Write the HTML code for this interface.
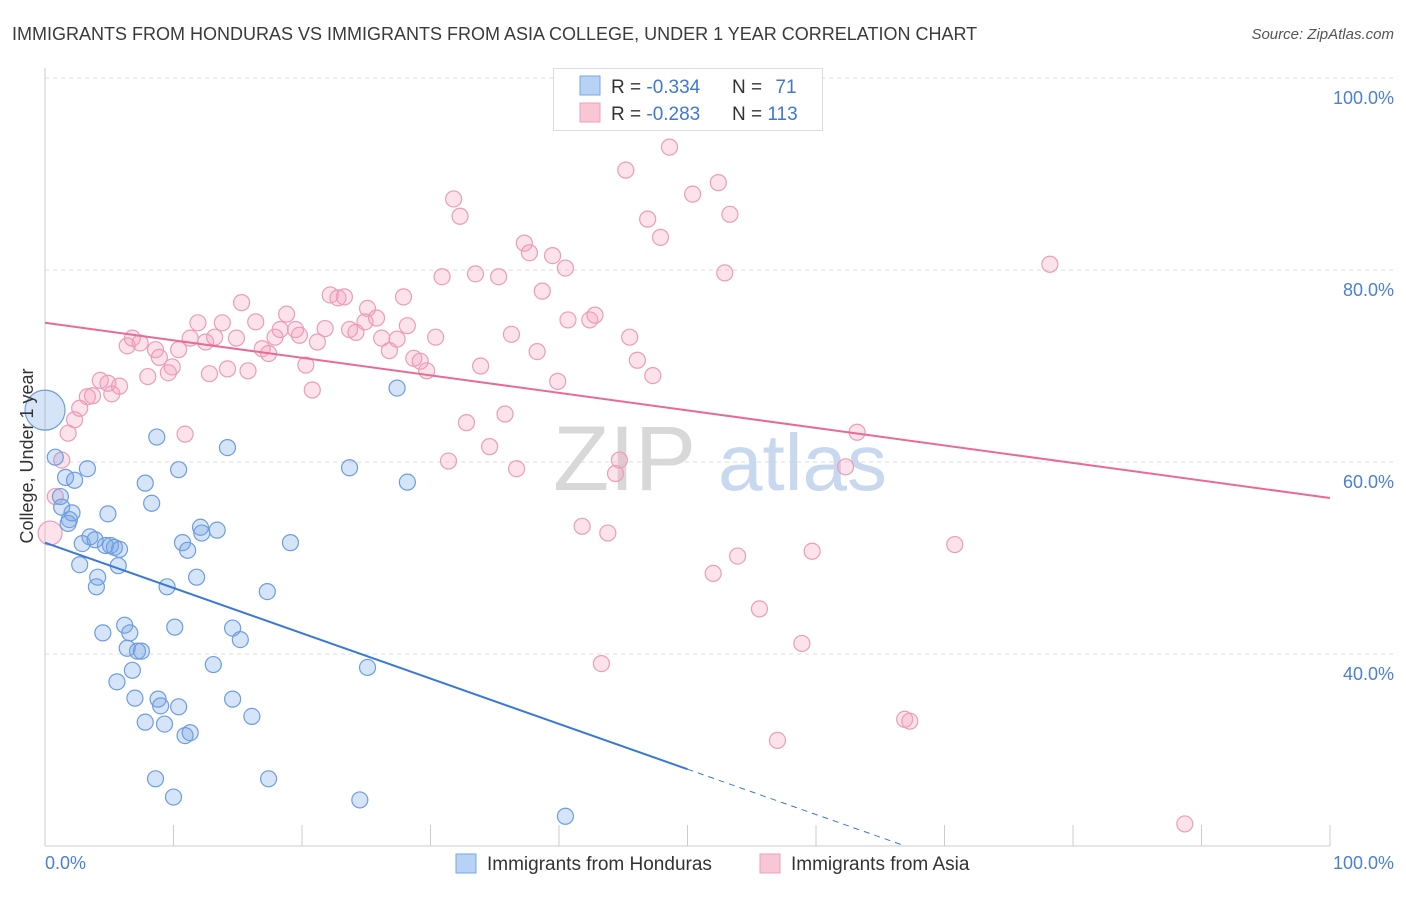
<!DOCTYPE html>
<html><head><meta charset="utf-8"><style>
body{margin:0;background:#fff;font-family:"Liberation Sans",sans-serif;}
svg text{font-family:"Liberation Sans",sans-serif;}
</style></head><body>
<svg id="chart" width="1406" height="892" viewBox="0 0 1406 892" xmlns="http://www.w3.org/2000/svg">
<text x="12" y="40" font-size="18" fill="#3a3a3a">IMMIGRANTS FROM HONDURAS VS IMMIGRANTS FROM ASIA COLLEGE, UNDER 1 YEAR CORRELATION CHART</text>
<text x="1394" y="39" font-size="15" fill="#555" font-style="italic" text-anchor="end">Source: ZipAtlas.com</text>
<g id="grid"></g>
<g><text x="553" y="490" font-size="92" fill="#d8d8d8" font-family="Liberation Serif">ZIP</text><text x="718" y="490" font-size="80" fill="#c8d8ef">atlas</text></g>
<line x1="45" y1="68" x2="45" y2="846" stroke="#ccc"/>
<line x1="45" y1="846" x2="1330" y2="846" stroke="#ccc"/>
<g id="ticks"></g>
<g id="pts"></g>
<g id="trend"></g>
<text x="45" y="869" font-size="18" fill="#4a7fd6">0.0%</text>
<text x="1394" y="869" font-size="18" fill="#4a7fd6" text-anchor="end">100.0%</text>
<text transform="translate(33,456) rotate(-90)" font-size="18" fill="#333" text-anchor="middle">College, Under 1 year</text>
<g>
<rect x="553.5" y="68.5" width="269" height="62" fill="#fff" stroke="#ddd"/>
<rect x="580" y="76" width="20" height="19" fill="#b8d2f5" stroke="#7aa6e6"/>
<rect x="580" y="103" width="20" height="19" fill="#f9c6d6" stroke="#eda2bb"/>
<text x="611" y="93" font-size="19" fill="#333">R = <tspan fill="#3f78d4">-0.334</tspan></text>
<text x="732" y="93" font-size="19" fill="#333">N = <tspan fill="#3f78d4" dx="8">71</tspan></text>
<text x="611" y="120" font-size="19" fill="#333">R = <tspan fill="#3f78d4">-0.283</tspan></text>
<text x="732" y="120" font-size="19" fill="#333">N = <tspan fill="#3f78d4">113</tspan></text>
</g>
<g>
<rect x="456" y="854" width="20" height="19" fill="#b8d2f5" stroke="#7aa6e6"/>
<text x="487" y="870" font-size="19" fill="#333">Immigrants from Honduras</text>
<rect x="760" y="854" width="20" height="19" fill="#f9c6d6" stroke="#eda2bb"/>
<text x="791" y="870" font-size="19" fill="#333">Immigrants from Asia</text>
</g>
</svg>
<script>
const yTicks=[100,80,60,40];
const yTickLabels=["100.0%","80.0%","60.0%","40.0%"];
const xTicks=[10,20,30,40,50,60,70,80,90,100];
const hondurasX=[0,0.8,1.2,1.6,2.3,3.3,1.9,1.8,1.3,2.1,2.7,2.9,3.5,3.9,4.1,4.9,4.7,5.1,5.4,5.8,5.7,4.0,4.5,6.2,6.6,6.4,7.2,7.5,5.6,6.8,7.0,7.8,8.8,9.0,9.3,8.6,10.0,10.9,11.3,10.1,9.5,8.3,7.8,8.7,10.4,10.7,11.1,11.8,12.1,12.2,13.4,13.1,14.6,15.2,14.6,16.1,17.4,17.3,19.1,14.2,23.7,25.1,24.5,27.4,28.2,40.5,10.4];
const hondurasY=[65.4,60.5,56.4,58.4,58.1,59.3,54.0,53.6,55.3,54.7,49.3,51.5,52.2,51.9,48.0,54.6,51.3,51.3,51.1,50.9,49.2,47.0,42.2,43.0,42.2,40.6,40.3,40.3,37.1,38.3,35.4,32.9,35.3,34.6,32.7,27.0,25.1,31.5,31.8,42.8,47.0,55.7,57.8,62.6,59.2,51.6,50.8,48.0,53.2,52.6,52.9,38.9,42.7,41.5,35.3,33.5,27.0,46.5,51.6,61.5,59.4,38.6,24.8,67.7,57.9,23.1,34.5];
const asiaX=[0.4,0.8,1.3,1.8,2.3,2.7,3.3,3.7,4.3,4.9,5.2,5.8,6.4,6.8,7.4,8.0,8.6,8.9,9.6,9.9,10.4,10.9,11.3,11.9,12.5,12.8,13.2,13.8,14.2,14.9,15.3,15.8,16.4,16.9,17.4,17.9,18.3,18.8,19.5,19.8,20.3,20.8,21.2,21.8,22.2,22.8,23.3,23.7,24.2,24.9,25.1,25.8,26.2,26.8,27.4,27.9,28.2,28.7,29.2,29.7,30.4,30.9,31.4,31.8,32.3,32.8,33.5,33.9,34.6,35.3,35.8,36.3,36.7,37.3,37.7,38.3,38.7,39.5,39.9,40.5,40.7,41.8,42.4,42.8,43.3,43.8,44.4,44.7,45.2,45.5,46.1,46.9,47.3,47.9,48.6,50.4,52.0,52.4,52.9,53.3,53.9,55.6,57.0,58.9,59.7,62.3,63.2,66.9,67.3,70.8,78.2,88.7];
const asiaY=[52.6,56.4,60.2,63.0,64.4,65.6,66.8,66.9,68.5,68.2,67.1,67.9,72.1,72.9,72.4,68.9,71.7,70.9,69.3,69.9,71.7,62.9,72.9,74.5,72.5,69.2,73.0,74.5,69.7,72.9,76.6,69.5,74.6,71.8,71.3,73.0,73.8,75.4,73.8,73.2,70.1,67.5,72.5,73.9,77.4,77.1,77.2,73.8,73.5,74.6,76.0,75.0,72.9,71.6,72.8,77.2,74.2,70.8,70.5,69.5,73.0,79.3,60.1,87.4,85.6,64.1,79.6,70.0,61.6,79.3,65.0,73.3,59.3,82.8,81.8,71.5,77.8,81.5,68.4,80.2,74.8,53.3,74.8,75.3,39.0,52.6,58.8,60.2,90.4,73.0,70.6,85.3,69.0,83.4,92.8,87.9,48.4,89.1,79.7,85.8,50.2,44.7,31.0,41.1,50.7,59.5,63.1,33.2,33.0,51.4,80.6,22.3];
const hondurasTrend=[51.6,28.0];
const asiaTrend=[74.5,56.25];
const NS="http://www.w3.org/2000/svg";
function sx(v){return 45+v*12.85;}
function sy(v){return 1038-v*9.6;}
function mk(t,a,p){const e=document.createElementNS(NS,t);for(const k in a)e.setAttribute(k,a[k]);p.appendChild(e);return e;}
const grid=document.getElementById('grid');
yTicks.forEach((v,i)=>{
 const l=mk('line',{x1:45,x2:1394,y1:sy(v),y2:sy(v),stroke:'#ddd','stroke-dasharray':'4,4'},grid);
 
 
 const t=mk('text',{x:1394,y:sy(v)+26,'font-size':18,fill:'#4a7fd6','text-anchor':'end'},grid);
 t.textContent=yTickLabels[i];
 
 
});
const ticks=document.getElementById('ticks');
xTicks.forEach(v=>{
 const l=mk('line',{x1:sx(v),x2:sx(v),y1:825,y2:846,stroke:'#ccc'},ticks);
 
 
});
const pts=document.getElementById('pts');
asiaX.forEach((x,i)=>{
 const c=mk('circle',{cx:sx(x),cy:sy(asiaY[i]),r:i==0?12:8,fill:'rgba(244,160,188,0.3)',stroke:'#ec9cb8','stroke-width':1.2},pts);
 
 
});
hondurasX.forEach((x,i)=>{
 const c=mk('circle',{cx:sx(x),cy:sy(hondurasY[i]),r:i==0?20:8,fill:'rgba(120,165,230,0.3)',stroke:'#6d9de0','stroke-width':1.2},pts);
 
 
});
const tr=document.getElementById('trend');
const hs=(hondurasTrend[1]-hondurasTrend[0])/50;
const l1=mk('line',{x1:sx(0),y1:sy(hondurasTrend[0]),x2:sx(50),y2:sy(hondurasTrend[1]),stroke:'#3a78d8','stroke-width':2},tr);


const xe=(20-hondurasTrend[0])/hs;
const l2=mk('line',{x1:sx(50),y1:sy(hondurasTrend[1]),x2:sx(xe),y2:sy(20),stroke:'#3a78d8','stroke-width':1,'stroke-dasharray':'6,5'},tr);


const l3=mk('line',{x1:sx(0),y1:sy(asiaTrend[0]),x2:sx(100),y2:sy(asiaTrend[1]),stroke:'#e86b97','stroke-width':2},tr);


</script>
</body></html>
